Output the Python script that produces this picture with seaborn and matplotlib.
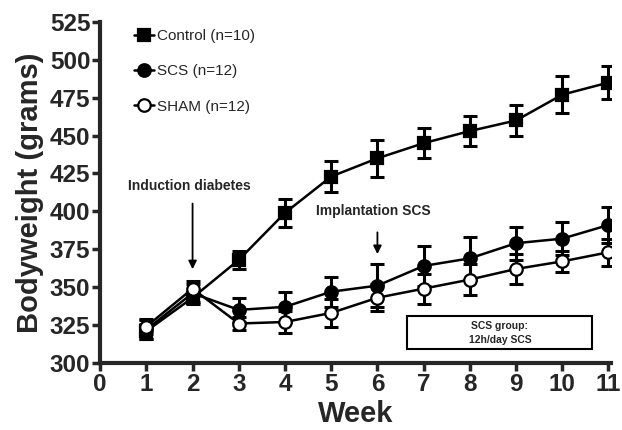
import matplotlib
matplotlib.use("Agg")
import matplotlib.pyplot as plt
import seaborn as sns
import pandas as pd
import numpy as np

weeks = [1, 2, 3, 4, 5, 6, 7, 8, 9, 10, 11]
control = [321, 343, 368, 399, 423, 435, 445, 453, 460, 477, 485]
control_err = [5, 4, 6, 9, 10, 12, 10, 10, 10, 12, 11]
scs = [322, 346, 335, 337, 347, 351, 364, 369, 379, 382, 391]
scs_err = [6, 6, 8, 10, 10, 14, 13, 14, 11, 11, 12]
sham = [324, 349, 326, 327, 333, 343, 349, 355, 362, 367, 373]
sham_err = [5, 5, 4, 7, 9, 9, 10, 10, 10, 7, 9]
labels = ["Control (n=10)", "SCS (n=12)", "SHAM (n=12)"]
x_ticks = list(range(0, 12))
y_ticks = list(range(300, 526, 25))

sns.set_style("ticks")
plt.rcParams["font.family"] = ["Liberation Sans", "DejaVu Sans"]

fig = plt.figure(figsize=(6.22, 4.30), dpi=100)
ax = fig.add_axes([0.161, 0.156, 0.821, 0.793])

df = pd.concat([
    pd.DataFrame({"week": weeks, "bw": control, "err": control_err, "group": labels[0]}),
    pd.DataFrame({"week": weeks, "bw": scs, "err": scs_err, "group": labels[1]}),
    pd.DataFrame({"week": weeks, "bw": sham, "err": sham_err, "group": labels[2]}),
])

styles = {
    labels[0]: dict(marker="s", mfc="black"),
    labels[1]: dict(marker="o", mfc="black"),
    labels[2]: dict(marker="o", mfc="white"),
}

for i, g in enumerate(labels):
    sub = df[df.group == g]
    ax.errorbar(sub.week, sub.bw, yerr=sub.err, fmt="none", ecolor="black",
                elinewidth=2.2, capsize=5, capthick=2.2, zorder=2 + i)
    sns.lineplot(data=sub, x="week", y="bw", ax=ax, color="black", lw=1.8,
                 marker=styles[g]["marker"], markersize=9,
                 markerfacecolor=styles[g]["mfc"], markeredgecolor="black",
                 markeredgewidth=1.6, label=g, zorder=3 + i, legend=False)

handles = [plt.Line2D([], [], color="black", lw=1.8, marker=styles[g]["marker"],
                      markersize=9, markerfacecolor=styles[g]["mfc"],
                      markeredgecolor="black", markeredgewidth=1.6) for g in labels]
ax.legend(handles, labels, loc="upper left", bbox_to_anchor=(0.04, 1.02),
          frameon=False, fontsize=11, handlelength=1.3, handletextpad=0.2,
          labelspacing=1.4)

ax.set_xlim(0, 11.05)
ax.set_ylim(300, 525)
ax.set_xticks(x_ticks)
ax.set_yticks(y_ticks)
ax.tick_params(axis="both", direction="out", length=6, width=2.5,
               labelsize=17.5, pad=1)
for lab in ax.get_xticklabels() + ax.get_yticklabels():
    lab.set_fontweight("bold")
for s in ["left", "bottom"]:
    ax.spines[s].set_linewidth(3)
sns.despine(ax=ax)

ax.set_xlabel("Week", fontsize=21, fontweight="bold", labelpad=3)
ax.set_ylabel("Bodyweight (grams)", fontsize=21, fontweight="bold", labelpad=4)

ax.text(1.94, 417, "Induction diabetes", ha="center", va="center",
        fontsize=10, fontweight="bold")
ax.annotate("", xy=(2, 360), xytext=(2, 407),
            arrowprops=dict(arrowstyle="-|>", color="black", lw=1.3,
                            mutation_scale=12))
ax.text(5.92, 400, "Implantation SCS", ha="center", va="center",
        fontsize=10, fontweight="bold")
ax.annotate("", xy=(6, 370), xytext=(6, 388),
            arrowprops=dict(arrowstyle="-|>", color="black", lw=1.3,
                            mutation_scale=12))

rect = plt.Rectangle((6.65, 309), 4.0, 22, fill=False, edgecolor="black", lw=1.5)
ax.add_patch(rect)
ax.text(8.65, 320, "SCS group:\n12h/day SCS", ha="center", va="center",
        fontsize=7.5, fontweight="bold", linespacing=1.5)

fig.savefig("out.png", dpi=100)
